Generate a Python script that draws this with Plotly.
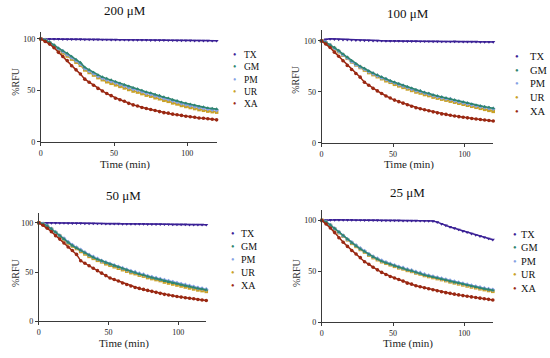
import plotly.graph_objects as go

W, H = 550, 358

TIME = [0, 3, 6, 9, 12, 15, 18, 21, 24, 27, 30, 33, 36, 39, 42, 45, 48, 51, 54, 57, 60,
        63, 66, 69, 72, 75, 78, 81, 84, 87, 90, 93, 96, 99, 102, 105, 108, 111, 114, 117, 120]

SERIES = ["TX", "GM", "PM", "UR", "XA"]
PANEL_TITLES = ["200 μM", "100 μM", "50 μM", "25 μM"]
X_TICKS = [0, 50, 100]
Y_TICKS = [0, 50, 100]

# ---- 200 uM ----
tx_200 = [100, 100, 100, 100, 100, 99.8, 99.8, 99.8, 99.7, 99.7, 99.6, 99.6, 99.5, 99.5, 99.4, 99.4, 99.3,
          99.3, 99.2, 99.2, 99.1, 99.1, 99, 99, 99, 98.9, 98.9, 98.8, 98.8, 98.7, 98.7, 98.6, 98.6, 98.5,
          98.5, 98.4, 98.4, 98.3, 98.3, 98.2, 98.2]
gm_200 = [100, 99, 97, 94, 91, 88.5, 86, 83, 80, 77, 72.5, 70, 67.5, 65, 63, 61.5, 60, 58.5, 57, 55.5, 54,
          52.5, 51.5, 50, 48.5, 47.5, 46, 45, 43.5, 42.5, 41, 40, 38.5, 37.5, 36.5, 35.5, 34.5, 33.8, 33, 32.5, 32]
pm_200 = [100, 99, 96.5, 93.5, 90.5, 88, 85, 82, 79, 76, 71.5, 69, 66.5, 64, 62, 60.5, 59, 57.5, 56, 54.5, 53,
          51.5, 50.5, 49, 47.5, 46.5, 45, 44, 42.5, 41.5, 40, 39, 37.5, 36.5, 35.5, 34.5, 33.5, 32.8, 32, 31.5, 31]
ur_200 = [100, 98.5, 96, 93, 89.5, 86.5, 83.5, 80.5, 77.5, 74.5, 70, 67.5, 65, 62.5, 60.5, 58.5, 57, 55.5, 54,
          52.5, 51, 49.5, 48.5, 47, 45.5, 44.5, 43, 42, 40.5, 39.5, 38, 37, 35.5, 34.5, 33.5, 32.5, 31.5, 30.8,
          30, 29.5, 29]
xa_200 = [100, 97.5, 95, 91.5, 87, 83, 79, 74, 70, 66, 61, 58, 55, 52, 49.5, 47, 45, 42.5, 41, 39.5, 37.5,
          36, 35, 33.5, 32.5, 31.5, 30.5, 29.5, 28.5, 28, 27, 26.5, 25.8, 25, 24.5, 24, 23.3, 23, 22.5, 22, 21.5]

# ---- 100 uM ----
tx_100 = [100, 101.5, 102, 101.8, 101.5, 101.3, 101.2, 101, 100.8, 100.6, 100.5, 100.4, 100.3, 100.2, 100.1,
          100, 100, 99.9, 99.9, 99.8, 99.8, 99.7, 99.7, 99.6, 99.6, 99.6, 99.5, 99.5, 99.4, 99.4, 99.4, 99.5,
          99.4, 99.3, 99.3, 99.2, 99.2, 99.1, 99.1, 99, 99]
gm_100 = [100, 98.5, 96, 93.5, 90.5, 87, 84, 80.5, 77.5, 75, 73, 70.5, 68.5, 66.5, 64.5, 63, 61, 59.5, 58,
          56.5, 55, 53.5, 52, 51, 49.5, 48.5, 47, 46, 45, 44, 43, 42, 41, 40, 39, 38, 37, 36.2, 35.5, 34.8, 34]
pm_100 = [100, 98.5, 96, 93, 90, 86.5, 83.5, 80, 77, 74.5, 72.5, 70, 68, 66, 64, 62.5, 60.5, 59, 57.5, 56,
          54.5, 53, 51.5, 50.5, 49, 48, 46.5, 45.5, 44.5, 43.5, 43, 41.5, 40.5, 39.5, 38.5, 37.5, 36.5, 35.7,
          35, 34.2, 33.5]
ur_100 = [100, 98, 95.5, 92.5, 89.5, 86, 83, 79.5, 76.5, 74, 71.5, 69, 67, 65, 63, 61, 59.5, 57.5, 56, 54.5,
          53, 51.5, 50, 49, 47.5, 46.5, 45, 44, 43, 42, 41, 40, 39, 38, 37, 36, 35, 34, 33, 32, 31]
xa_100 = [100, 97, 93.5, 89, 85, 80.5, 76, 72, 68, 64.5, 59.5, 56.5, 53.5, 51, 48.5, 46, 44, 42, 40.5, 39,
          37.5, 36, 34.5, 33.5, 32.5, 31.5, 30.5, 29.5, 28.5, 28, 27.2, 26.5, 25.8, 25.2, 24.6, 24, 23.5, 23,
          22.5, 22, 21.5]

# ---- 50 uM ----
tx_50 = [100, 100, 100, 99.9, 99.9, 99.8, 99.8, 99.7, 99.7, 99.6, 99.6, 99.5, 99.4, 99.4, 99.3, 99.3, 99.2,
         99.2, 99.1, 99.1, 99, 99, 98.9, 98.9, 98.8, 98.8, 98.7, 98.7, 98.6, 98.6, 98.5, 98.5, 98.4, 98.4,
         98.3, 98.3, 98.2, 98.2, 98.1, 98.1, 98]
gm_50 = [100, 99, 97, 94, 90.5, 87, 83.5, 80, 77, 74.5, 72, 69.5, 67, 65, 63, 61.5, 59.5, 58, 56.5, 55, 53.5,
         52, 50.5, 49.5, 48, 47, 45.5, 44.5, 43.5, 42.5, 41, 40, 39, 38, 37, 36.2, 35.3, 34.5, 33.5, 32.8, 32]
pm_50 = [100, 99, 97, 94, 90.5, 87, 84, 80.5, 77.5, 75, 72.5, 70, 67.5, 65.5, 63.5, 61.5, 60, 58.5, 57, 55.5,
         54, 52.5, 51, 50, 48.5, 47.5, 46, 45, 44, 43, 42, 41, 40, 39, 38, 37, 36, 35, 34, 33.3, 32.5]
ur_50 = [100, 98.5, 96.5, 93.5, 90, 86.5, 83, 79.5, 76.5, 74, 71, 68.5, 66, 64, 62, 60.5, 58.5, 57, 55.5, 54,
         52.5, 51, 49.5, 48.5, 47, 46, 44.5, 43.5, 42.5, 41.5, 40, 39, 38, 37, 36, 35, 34, 33, 32, 31.3, 30.5]
xa_50 = [100, 97.5, 94.5, 91, 87, 83.5, 79.5, 75.5, 72, 68, 61.5, 59, 56.5, 54, 51.5, 49, 46.5, 44, 42.5, 41,
         39, 37.5, 36, 34.5, 33.5, 32.5, 31.5, 30.5, 29.5, 28.5, 27.5, 26.8, 26, 25.3, 24.7, 24, 23.5, 23,
         22.3, 21.8, 21.3]

# ---- 25 uM ----
tx_25 = [100, 100.3, 100.5, 100.5, 100.5, 100.4, 100.4, 100.4, 100.3, 100.3, 100.2, 100.2, 100.1, 100.1, 100,
         100, 100, 99.9, 99.9, 99.8, 99.8, 99.7, 99.7, 99.6, 99.5, 99.4, 99.3, 98.3, 96.5, 95, 93.5, 92.3, 91,
         89.5, 88.3, 87, 85.8, 84.6, 83.4, 82.2, 81]
gm_25 = [100, 98.5, 95.5, 92, 88.5, 85, 81.5, 78, 75, 72, 69.5, 66.5, 64, 62, 60, 58.5, 57, 55.5, 54, 53,
         51.5, 50.5, 49, 48, 46.5, 45.5, 44.5, 43.5, 42.5, 41.5, 40.3, 39.3, 38.5, 37.5, 36.5, 35.5, 34.7,
         33.8, 33, 32.2, 31.5]
pm_25 = [100, 98.5, 95.5, 92, 88.5, 85, 81.5, 78.5, 75.5, 72.5, 70, 67, 64.5, 62.5, 60.5, 59, 57.5, 56, 54.5,
         53.5, 52, 51, 49.5, 48.5, 47, 46, 45, 44, 43, 42, 41, 40, 39, 38, 37, 36, 35.2, 34.3, 33.5, 32.7, 32]
ur_25 = [100, 98, 95, 91.5, 88, 84.5, 81, 77.5, 74.5, 71.5, 69, 66, 63.5, 61.5, 59.5, 58, 56.5, 55, 53.5, 52.5,
         51, 50, 48.5, 47.5, 46, 45, 44, 43, 42, 41, 39.8, 38.8, 37.8, 36.8, 35.8, 34.8, 34, 33, 32.2, 31.3, 30.5]
xa_25 = [100, 96.5, 92.5, 88, 83, 78.5, 74.5, 70.5, 67, 63.5, 59.5, 57, 54, 51.5, 49, 47, 45, 43.5, 42, 40.5,
         38.5, 37.5, 36, 35, 34, 33, 32, 31, 30, 29.2, 28.5, 27.7, 27, 26.3, 25.6, 25, 24.4, 23.8, 23.2, 22.6, 22]

PANEL_DATA = [
    {"TX": tx_200, "GM": gm_200, "PM": pm_200, "UR": ur_200, "XA": xa_200},
    {"TX": tx_100, "GM": gm_100, "PM": pm_100, "UR": ur_100, "XA": xa_100},
    {"TX": tx_50, "GM": gm_50, "PM": pm_50, "UR": ur_50, "XA": xa_50},
    {"TX": tx_25, "GM": gm_25, "PM": pm_25, "UR": ur_25, "XA": xa_25},
]

COLORS = {"TX": "#3b2196", "GM": "#2f8570", "PM": "#86a2e4", "UR": "#c9a126", "XA": "#9a2812"}
SYMBOLS = {"TX": "triangle-down", "GM": "triangle-up", "PM": "diamond", "UR": "square", "XA": "circle"}
DRAW_ORDER = ["TX", "UR", "PM", "GM", "XA"]

# layout geometry in pixels: x at value 0, x at value 100, y at value 0, y at value 100, y max
PANELS = [
    dict(x0=39, x100=186, y0=144, y100=39.5, ymax=107, title=(123, 11), xt=(123, 167), yt=(14, 82),
         leg_dot=233.5, leg_txt=241, leg_y=81, leg_fs=9.5),
    dict(x0=320.7, x100=464.3, y0=145, y100=41.5, ymax=111, title=(407, 14), xt=(408, 167), yt=(295, 80),
         leg_dot=517, leg_txt=528, leg_y=85, leg_fs=10.5),
    dict(x0=37, x100=177, y0=326, y100=226, ymax=110, title=(122, 198), xt=(122, 348), yt=(13, 276),
         leg_dot=232, leg_txt=238, leg_y=263, leg_fs=10),
    dict(x0=321, x100=464, y0=327, y100=223.5, ymax=110, title=(407, 195), xt=(407, 348), yt=(295, 276),
         leg_dot=515, leg_txt=519, leg_y=265, leg_fs=10.3),
]

SERIF = "Liberation Serif, Times New Roman, serif"
AXIS_COLOR = "#3a3a3a"

fig = go.Figure()
annotations = []
layout_axes = {}

for i, (p, data, ttl) in enumerate(zip(PANELS, PANEL_DATA, PANEL_TITLES)):
    n = "" if i == 0 else str(i + 1)
    xmax = 120
    x1 = p["x0"] + (p["x100"] - p["x0"]) * xmax / 100
    ytop = p["y0"] - (p["y0"] - p["y100"]) * p["ymax"] / 100
    xdom = [p["x0"] / W, x1 / W]
    ydom = [1 - p["y0"] / H, 1 - ytop / H]

    for s in DRAW_ORDER:
        fig.add_trace(go.Scatter(
            x=TIME, y=data[s], mode="lines+markers", name=s, showlegend=False,
            line=dict(color=COLORS[s], width=1.5),
            marker=dict(color=COLORS[s], size=3.6, symbol=SYMBOLS[s]),
            cliponaxis=False,
            xaxis="x" + n, yaxis="y" + n,
        ))

    common = dict(showgrid=False, zeroline=False, showline=True, linecolor=AXIS_COLOR, linewidth=1,
                  ticks="outside", ticklen=3, tickwidth=1, tickcolor=AXIS_COLOR,
                  tickfont=dict(family=SERIF, size=8, color="#222"))
    layout_axes["xaxis" + n] = dict(domain=xdom, range=[0, xmax], tickvals=X_TICKS,
                                    anchor="y" + n, **common)
    layout_axes["yaxis" + n] = dict(domain=ydom, range=[0, p["ymax"]], tickvals=Y_TICKS,
                                    anchor="x" + n, **common)

    annotations.append(dict(text=ttl, x=p["title"][0] / W, y=1 - p["title"][1] / H, xref="paper", yref="paper",
                            showarrow=False, xanchor="center", yanchor="middle",
                            font=dict(family=SERIF, size=13, color="#111")))
    annotations.append(dict(text="Time (min)", x=p["xt"][0] / W, y=1 - p["xt"][1] / H, xref="paper",
                            yref="paper", showarrow=False, xanchor="center", yanchor="middle",
                            font=dict(family=SERIF, size=11, color="#222")))
    annotations.append(dict(text="%RFU", x=p["yt"][0] / W, y=1 - p["yt"][1] / H, xref="paper",
                            yref="paper", showarrow=False, xanchor="center", yanchor="middle", textangle=-90,
                            font=dict(family=SERIF, size=10, color="#333")))
    annotations.append(dict(text="<br>".join(SERIES), x=p["leg_txt"] / W, y=1 - p["leg_y"] / H,
                            xref="paper", yref="paper", showarrow=False, xanchor="left", yanchor="middle",
                            align="left", font=dict(family=SERIF, size=p["leg_fs"], color="#111")))
    dots = "<br>".join(f"<span style='color:{COLORS[s]}'>•</span>" for s in SERIES)
    annotations.append(dict(text=dots, x=p["leg_dot"] / W, y=1 - p["leg_y"] / H,
                            xref="paper", yref="paper", showarrow=False, xanchor="center", yanchor="middle",
                            align="center", font=dict(family=SERIF, size=p["leg_fs"], color="#111")))

fig.update_layout(
    width=W, height=H, margin=dict(l=0, r=0, t=0, b=0),
    paper_bgcolor="white", plot_bgcolor="white", showlegend=False,
    annotations=annotations, **layout_axes,
)

fig.write_html("out.html", config={"displayModeBar": False},
               post_script="document.body.style.margin='0px';document.body.style.padding='0px';")
